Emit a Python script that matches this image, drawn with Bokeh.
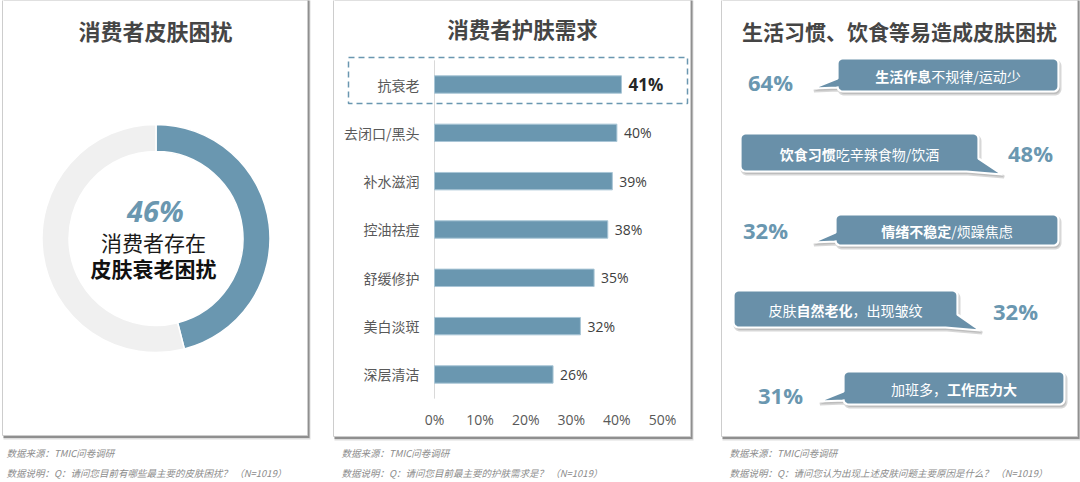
import numpy as np
from bokeh.plotting import figure
from bokeh.models import Range1d
from bokeh.core.properties import value
from bokeh.embed import file_html
from bokeh.resources import INLINE

# ---------------- data ----------------
donut_values = [46, 54]               # share with ageing trouble / rest (%)
donut_pct_label = "46%"
donut_line1 = "消费者存在"
donut_line2 = "皮肤衰老困扰"

need_categories = ["抗衰老", "去闭口/黑头", "补水滋润", "控油祛痘", "舒缓修护", "美白淡斑", "深层清洁"]
need_values = [41, 40, 39, 38, 35, 32, 26]
need_ticks = [0, 10, 20, 30, 40, 50]
need_tick_labels = ["0%", "10%", "20%", "30%", "40%", "50%"]

cause_values = [64, 48, 32, 32, 31]
cause_texts = [
    [("生活作息", True), ("不规律/运动少", False)],
    [("饮食习惯", True), ("吃辛辣食物/饮酒", False)],
    [("情绪不稳定", True), ("/烦躁焦虑", False)],
    [("皮肤", False), ("自然老化", True), ("，出现皱纹", False)],
    [("加班多，", False), ("工作压力大", True)],
]

titles = ["消费者皮肤困扰", "消费者护肤需求", "生活习惯、饮食等易造成皮肤困扰"]
source_note = "数据来源：TMIC问卷调研"
question_notes = [
    "数据说明：Q：请问您目前有哪些最主要的皮肤困扰？ （N=1019）",
    "数据说明：Q：请问您目前最主要的护肤需求是？ （N=1019）",
    "数据说明：Q：请问您认为出现上述皮肤问题主要原因是什么？ （N=1019）",
]

# ---------------- style ----------------
CJK = value("Noto Sans CJK SC")
NUM = value("Open Sans")
BLUE = "#6A97B0"
BUBBLE = "#6990A9"
TITLE_C = "#454545"

W, H = 1080, 482
p = figure(width=W, height=H, x_range=Range1d(0, W), y_range=Range1d(H, 0),
           output_backend="svg", toolbar_location=None, min_border=0,
           x_axis_type=None, y_axis_type=None)
p.grid.visible = False
p.outline_line_color = None
p.background_fill_color = "white"
p.border_fill_color = "white"

# ---------------- panels ----------------
panels = [(2, 307, 435), (333, 690, 436), (721, 1077, 436)]
for x0, x1, yb in panels:
    p.quad(left=x0 + 1, right=x1 + 3, top=-10, bottom=yb + 4, fill_color="#9A9A9A",
           fill_alpha=0.35, line_color=None)
    p.quad(left=x0 + 1, right=x1 + 2, top=-10, bottom=yb + 2.5, fill_color="#6E6E6E",
           fill_alpha=0.7, line_color=None)
    p.quad(left=x0, right=x1, top=-10, bottom=yb, fill_color="white",
           line_color="#CDCDCD", line_width=1)

title_pos = [(155, 29), (522, 28), (899, 30)]
title_sizes = ["22px", "21.5px", "21px"]
for (tx, ty), t, fs in zip(title_pos, titles, title_sizes):
    p.text(x=[tx], y=[ty], text=[t], text_font=CJK, text_font_size=fs,
           text_font_style="bold", text_color=TITLE_C, text_align="center",
           text_baseline="middle")

# ---------------- donut ----------------
fr = np.array(donut_values, dtype=float) / sum(donut_values)
cum = np.concatenate([[0], np.cumsum(fr)])
starts = np.pi / 2 - 2 * np.pi * cum[1:]
ends = np.pi / 2 - 2 * np.pi * cum[:-1]
p.annular_wedge(x=155.5, y=238, inner_radius=87, outer_radius=114,
                start_angle=starts, end_angle=ends,
                fill_color=[BLUE, "#F0F0F0"], line_color="white", line_width=1.5)
p.text(x=[155], y=[210], text=[donut_pct_label], text_font=NUM, text_font_size="29px",
       text_font_style="bold italic", text_color=BLUE, text_align="center", text_baseline="middle")
p.text(x=[153], y=[241], text=[donut_line1], text_font=CJK, text_font_size="21px",
       text_color="#1A1A1A", text_align="center", text_baseline="middle")
p.text(x=[153], y=[267], text=[donut_line2], text_font=CJK, text_font_size="21px",
       text_font_style="bold", text_color="#111111", text_align="center", text_baseline="middle")

# ---------------- bar chart ----------------
AX0, AX50 = 434, 662
ppu = (AX50 - AX0) / 50.0
p.extra_x_ranges = {"pct": Range1d((0 - AX0) / ppu, (W - AX0) / ppu)}
ROW0, ROWSTEP = 84, 48.33
p.extra_y_ranges = {"cat": Range1d((H - ROW0) / ROWSTEP, (0 - ROW0) / ROWSTEP)}
n = len(need_categories)
idx = list(range(n))

p.quad(left=348, right=687, top=57, bottom=103, fill_color=None, line_color=BLUE,
       line_dash="6 4", line_width=1.5)
p.segment(x0=[0], x1=[0], y0=[-0.5], y1=[n - 0.5], x_range_name="pct", y_range_name="cat",
          line_color="#D9D9D9", line_width=1)
p.hbar(y=idx, left=0, right=need_values, height=0.36, x_range_name="pct", y_range_name="cat",
       fill_color=BLUE, line_color="#A9C6D6", line_width=1)
p.text(x=[0] * n, y=idx, text=need_categories, x_offset=-15, x_range_name="pct",
       y_range_name="cat", text_font=CJK, text_font_size="14px", text_color="#595959",
       text_align="right", text_baseline="middle")
vl = [f"{v}%" for v in need_values]
p.text(x=need_values[1:], y=idx[1:], text=vl[1:], x_offset=7, x_range_name="pct",
       y_range_name="cat", text_font=NUM, text_font_size="14px", text_color="#404040",
       text_align="left", text_baseline="middle")
p.text(x=need_values[:1], y=idx[:1], text=vl[:1], x_offset=7, x_range_name="pct",
       y_range_name="cat", text_font=NUM, text_font_size="17px", text_font_style="bold",
       text_color="#262626", text_align="left", text_baseline="middle")
p.text(x=need_ticks, y=[419] * len(need_ticks), text=need_tick_labels, x_range_name="pct",
       text_font=NUM, text_font_size="14px", text_color="#595959", text_align="center",
       text_baseline="middle")

# ---------------- callouts ----------------
bubbles = [
    (837, 1058, 58, 91, (812, 88), "left"),
    (740, 978, 133, 171, (1002, 174), "right"),
    (835, 1058, 214, 245, (812, 242), "left"),
    (733, 957, 290, 327, (980, 330), "right"),
    (843, 1064, 371, 404, (818, 401), "left"),
]
pct_pos = [(770, 81), (1030, 152), (765, 229), (1015, 310), (780, 394)]


def arc(cx, cy, r, a0, a1, k=6):
    t = np.linspace(a0, a1, k)
    return list(cx + r * np.cos(t)), list(cy + r * np.sin(t))


def bubble(x0, x1, y0, y1, tip, side, r=5):
    xs, ys = [], []
    def add(a):
        xs.extend(a[0]); ys.extend(a[1])
    add(arc(x0 + r, y0 + r, r, np.pi, 1.5 * np.pi))
    add(arc(x1 - r, y0 + r, r, 1.5 * np.pi, 2 * np.pi))
    if side == "right":
        xs.extend([x1, tip[0], x1 - 12]); ys.extend([y1 - 13, tip[1], y1])
    else:
        add(arc(x1 - r, y1 - r, r, 0, 0.5 * np.pi))
    add(arc(x0 + r, y1 - r, r, 0.5 * np.pi, np.pi))
    if side == "left":
        xs.extend([x0, tip[0], x0]); ys.extend([y1 - 4, tip[1], y1 - 13])
    return xs, ys


bx, by, sx, sy = [], [], [], []
for x0, x1, y0, y1, tip, side in bubbles:
    xs, ys = bubble(x0, x1, y0, y1, tip, side)
    bx.append(xs); by.append(ys)
    sx.append([v + 1.5 for v in xs]); sy.append([v + 2.5 for v in ys])
p.patches(xs=sx, ys=sy, fill_color="#8A8A8A", fill_alpha=0.45, line_color="#B0B0B0",
          line_alpha=0.5, line_width=3)
p.patches(xs=bx, ys=by, fill_color=BUBBLE, line_color="white", line_width=2.2)


def tw(s, fs):
    w = 0.0
    for c in s:
        if ord(c) > 0x2E80:
            w += fs
        elif c == "/":
            w += 0.4 * fs
        else:
            w += 0.6 * fs
    return w


FS = 14
seg = {True: dict(x=[], y=[], t=[]), False: dict(x=[], y=[], t=[])}
for (x0, x1, y0, y1, tip, side), parts in zip(bubbles, cause_texts):
    total = sum(tw(s, FS) for s, _ in parts)
    cx = (x0 + x1) / 2.0
    cy = (y0 + y1) / 2.0 + 1
    start = cx - total / 2.0
    for s, b in parts:
        seg[b]["x"].append(start); seg[b]["y"].append(cy); seg[b]["t"].append(s)
        start += tw(s, FS)
for b in (True, False):
    p.text(x=seg[b]["x"], y=seg[b]["y"], text=seg[b]["t"], text_font=CJK,
           text_font_size=f"{FS}px", text_font_style="bold" if b else "normal",
           text_color="white", text_align="left", text_baseline="middle")

p.text(x=[q[0] for q in pct_pos], y=[q[1] for q in pct_pos],
       text=[f"{v}%" for v in cause_values], text_font=NUM, text_font_size="22px",
       text_font_style="bold", text_color=BLUE, text_align="center", text_baseline="middle")

# ---------------- footnotes ----------------
note_x = [6, 341, 729]
p.text(x=note_x, y=[452] * 3, text=[source_note] * 3, text_font=CJK, text_font_size="9.5px",
       text_font_style="italic", text_color="#8C8C8C", text_align="left", text_baseline="middle")
p.text(x=note_x, y=[472] * 3, text=question_notes, text_font=CJK, text_font_size="9.5px",
       text_font_style="italic", text_color="#8C8C8C", text_align="left", text_baseline="middle")

open("out.html", "w").write(file_html(p, INLINE))
